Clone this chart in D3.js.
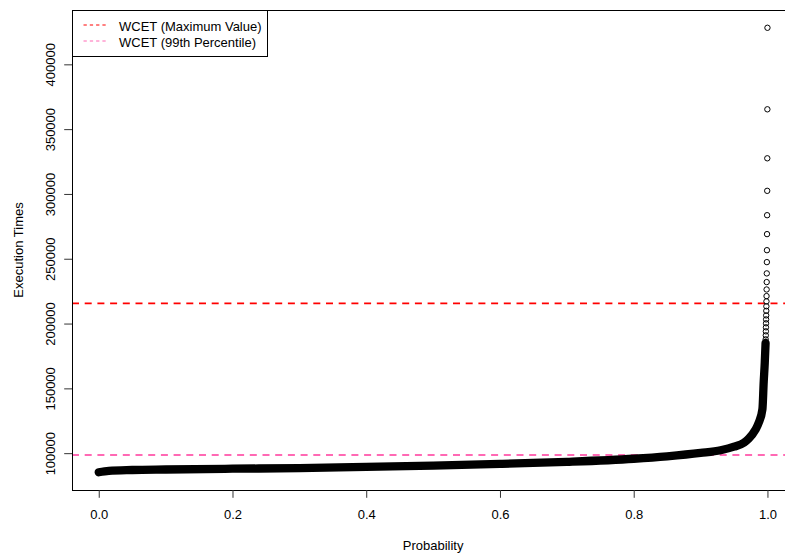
<!DOCTYPE html>
<html><head><meta charset="utf-8">
<script src="https://cdn.jsdelivr.net/npm/d3@7"></script>
<style>
body{margin:0;background:#fff}
text{font-family:"Liberation Sans",Arial,Helvetica,sans-serif;font-size:13px;fill:#000}
</style>
</head><body>
<svg id="chart" width="785" height="554"></svg>
<script>
// Dense part of the empirical distribution (sorted execution times vs probability)
const probability = [0, 0.015, 0.05, 0.1, 0.2, 0.3, 0.4, 0.5, 0.6, 0.7, 0.8, 0.85, 0.9, 0.93, 0.95, 0.965, 0.972, 0.982, 0.987, 0.9925, 0.9944, 0.996, 0.9972];
const executionTime = [85300, 86400, 87000, 87400, 88000, 88500, 89500, 90400, 91700, 93300, 95700, 97600, 100200, 102300, 105000, 108200, 111200, 118000, 123500, 134000, 155000, 170000, 185000];
// Sparse upper tail (individually visible points)
const tailProbability = [1, 0.999875, 0.99975, 0.999625, 0.9995, 0.999375, 0.99925, 0.999125, 0.999, 0.998875, 0.99875, 0.998625, 0.9985, 0.998375, 0.99825, 0.998125, 0.998, 0.997875, 0.99775, 0.997625, 0.9975, 0.997375];
const tailExecutionTime = [428200, 365300, 327500, 302400, 283600, 269000, 256600, 247400, 238700, 232000, 226300, 221200, 217100, 213300, 209800, 206300, 203200, 200200, 197100, 194000, 190900, 187800];
// Reference lines
const wcetMaximum = 215600;
const wcet99th = 98600;
// Ticks
const xTicks = [0, 0.2, 0.4, 0.6, 0.8, 1.0];
const yTicks = [100000, 150000, 200000, 250000, 300000, 350000, 400000];
const legendLabels = ["WCET (Maximum Value)", "WCET (99th Percentile)"];
const legendColors = ["#ff0000", "#ff69b4"];

const L = 72, R = 794.2, T = 10, B = 490;
const svg = d3.select("#chart");
const allP = probability.concat(tailProbability);
const allV = executionTime.concat(tailExecutionTime);
const pad = (lo, hi) => { const d = (hi - lo) * 0.04; return [lo - d, hi + d]; };
const x = d3.scaleLinear().domain(pad(d3.min(allP), d3.max(allP))).range([L, R]);
const y = d3.scaleLinear().domain(pad(d3.min(allV), d3.max(allV))).range([B, T]);

svg.append("defs").append("clipPath").attr("id", "clip")
  .append("rect").attr("x", L).attr("y", T).attr("width", R - L).attr("height", B - T);

const plot = svg.append("g").attr("clip-path", "url(#clip)");

// reference lines
plot.append("line").attr("x1", L).attr("x2", R).attr("y1", y(wcetMaximum)).attr("y2", y(wcetMaximum))
  .style("stroke", legendColors[0]).attr("stroke-width", 1.8).attr("stroke-dasharray", "7,5.7");
plot.append("line").attr("x1", L).attr("x2", R).attr("y1", y(wcet99th)).attr("y2", y(wcet99th))
  .style("stroke", legendColors[1]).attr("stroke-width", 1.8).attr("stroke-dasharray", "7,5.7");

// dense band of overlapping points
const bandData = probability.map((p, i) => ({p, v: executionTime[i]}));
plot.append("path").datum(bandData)
  .attr("d", d3.line().x(d => x(d.p)).y(d => y(d.v)).curve(d3.curveMonotoneX))
  .attr("fill", "none").attr("stroke", "#000").attr("stroke-width", 8.3)
  .attr("stroke-linecap", "round").attr("stroke-linejoin", "round");

// individual points
const pts = allP.map((p, i) => ({p, v: allV[i]}));
plot.selectAll("circle.pt").data(pts).enter().append("circle").attr("class", "pt")
  .attr("cx", d => x(d.p)).attr("cy", d => y(d.v)).attr("r", 2.7)
  .attr("fill", "none").attr("stroke", "#000").attr("stroke-width", 1);

// box
svg.append("rect").attr("x", L + 0.5).attr("y", T + 0.5).attr("width", R - L).attr("height", B - T)
  .attr("fill", "none").attr("stroke", "#000").attr("stroke-width", 1);

// x axis
const gx = svg.append("g").attr("transform", `translate(0,${B})`)
  .call(d3.axisBottom(x).tickValues(xTicks).tickSize(7.8).tickFormat(d3.format(".1f")));
gx.select(".domain").remove();
gx.selectAll(".tick line").attr("stroke", "#333");
gx.selectAll(".tick text").attr("y", 29.3).attr("dy", null)
  .style("font-family", "Liberation Sans, Arial, sans-serif").style("font-size", "13px").attr("fill", "#000");

// y axis
const gy = svg.append("g").attr("transform", `translate(${L},0)`)
  .call(d3.axisLeft(y).tickValues(yTicks).tickSize(7.8).tickFormat(d3.format("d")));
gy.select(".domain").remove();
gy.selectAll(".tick line").attr("stroke", "#333");
gy.selectAll(".tick text").attr("x", 0).attr("y", 0).attr("dy", null)
  .attr("transform", "translate(-17,0) rotate(-90)").attr("text-anchor", "middle")
  .style("font-family", "Liberation Sans, Arial, sans-serif").style("font-size", "13px").attr("fill", "#000");

// axis titles
svg.append("text").attr("x", (L + R) / 2).attr("y", 550).attr("text-anchor", "middle").text("Probability");
svg.append("text").attr("transform", `translate(22.6,${(T + B) / 2}) rotate(-90)`).attr("text-anchor", "middle").text("Execution Times");

// legend
const lg = svg.append("g");
lg.append("rect").attr("x", L + 0.5).attr("y", T + 0.5).attr("width", 195).attr("height", 46)
  .attr("fill", "#fff").attr("stroke", "#000").attr("stroke-width", 1);
legendLabels.forEach((lab, i) => {
  const yy = 25 + i * 16;
  lg.append("line").attr("x1", 83.5).attr("x2", 107).attr("y1", yy).attr("y2", yy)
    .style("stroke", legendColors[i]).style("stroke-width", 1).style("stroke-dasharray", "3.3,3");
  lg.append("text").attr("x", 119).attr("y", yy + 5.6).text(lab);
});
</script>
</body></html>
